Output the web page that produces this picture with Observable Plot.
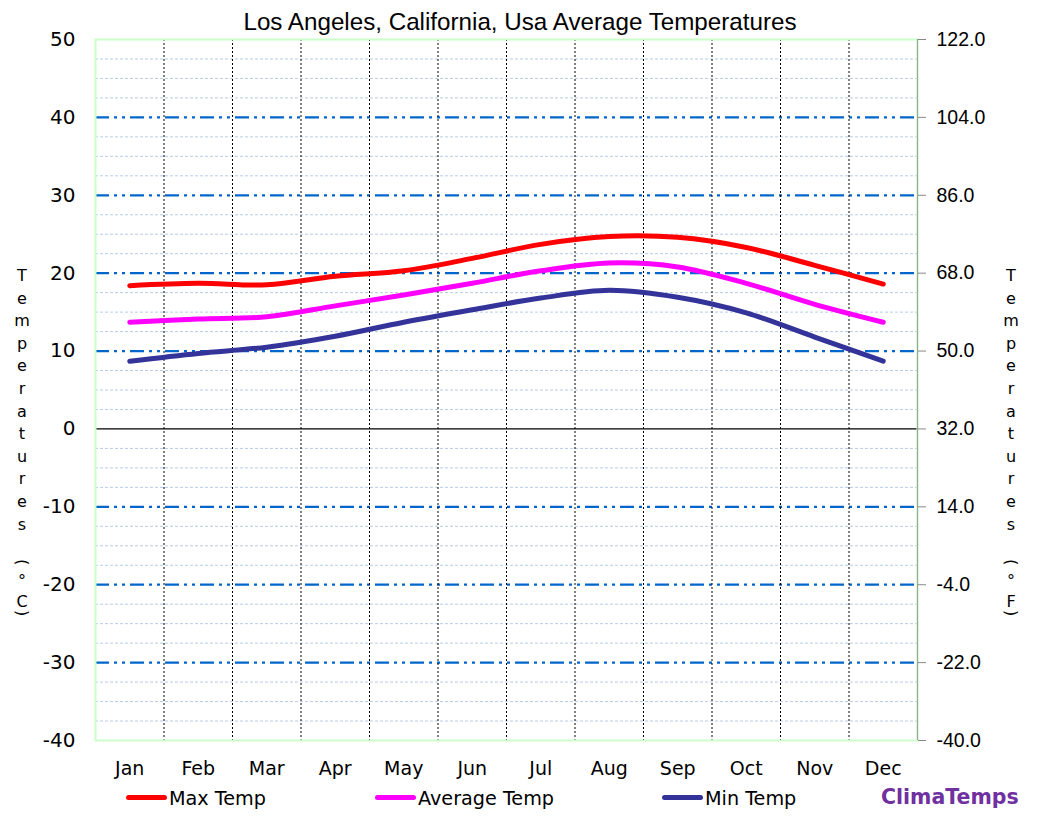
<!DOCTYPE html>
<html>
<head>
<meta charset="utf-8">
<script src="https://cdn.jsdelivr.net/npm/d3@7"></script>
<script src="https://cdn.jsdelivr.net/npm/@observablehq/plot@0.6"></script>
<style>
  html, body { margin: 0; padding: 0; background: #fff; }
  #wrap { position: relative; width: 1037px; height: 821px; overflow: hidden; }
  #chart { position: absolute; left: 0; top: 0; }
  .title { position: absolute; left: 0; width: 1040px; top: 8px; text-align: center;
           font-family: "Liberation Sans", Arial, sans-serif; font-size: 24.2px; color: #000; }
  .vlab { position: absolute; width: 20px; text-align: center;
          font-family: "DejaVu Sans", Verdana, sans-serif; font-size: 16px; color: #000; }
  .vlab span { position: absolute; left: 0; width: 20px; text-align: center; }
  .vlab span.tight { line-height: 10px; height: 10px; }
  .vlab span.rot { transform: rotate(90deg); }
  .leg { position: absolute; top: 787px; font-family: "DejaVu Sans", Verdana, sans-serif; font-size: 19.2px; color: #000; white-space: nowrap; }
  .leg i { display: inline-block; width: 41px; height: 5px; border-radius: 3px; vertical-align: middle; margin-right: 2px; position: relative; top: -2px; }
  .brand { position: absolute; top: 785px; left: 881px; font-family: "DejaVu Sans", Verdana, sans-serif; font-weight: bold; font-size: 20.5px; color: #7030a0; }
</style>
</head>
<body>
<div id="wrap">
  <div id="chart"></div>
  <div class="title">Los Angeles, California, Usa Average Temperatures</div>
  <div class="vlab" id="labC" style="left:12px;top:0"></div>
  <div class="vlab" id="labF" style="left:1001px;top:0"></div>
  <div class="leg" style="left:126px"><i style="background:#ff0000"></i>Max Temp</div>
  <div class="leg" style="left:375px"><i style="background:#ff00ff"></i>Average Temp</div>
  <div class="leg" style="left:662px"><i style="background:#333399"></i>Min Temp</div>
  <div class="brand">ClimaTemps</div>
</div>
<script>
const months = ["Jan","Feb","Mar","Apr","May","Jun","Jul","Aug","Sep","Oct","Nov","Dec"];
const maxTemp = [18.4, 18.7, 18.5, 19.6, 20.3, 21.9, 23.7, 24.7, 24.6, 23.3, 21.0, 18.6];
const avgTemp = [13.7, 14.1, 14.4, 15.8, 17.2, 18.7, 20.3, 21.3, 20.8, 18.7, 16.0, 13.7];
const minTemp = [8.7, 9.7, 10.5, 11.9, 13.7, 15.3, 16.8, 17.8, 16.9, 14.9, 11.8, 8.7];
const seriesNames = ["Max Temp", "Average Temp", "Min Temp"];
const seriesColors = ["#ff0000", "#ff00ff", "#333399"];
const yTicks = [-40, -30, -20, -10, 0, 10, 20, 30, 40, 50];
const majorGrid = [-30, -20, -10, 10, 20, 30, 40];
const minorGrid = d3.range(-40, 50.01, 2.5).filter(v => v % 10 !== 0);
const monthIdx = months.map((m, i) => i + 1);
const boundaries = months.slice(1).map((m, i) => i + 1.5);

const rows = [];
[maxTemp, avgTemp, minTemp].forEach((arr, s) => {
  arr.forEach((v, i) => rows.push({series: seriesNames[s], m: i + 1, t: v}));
});

const chart = Plot.plot({
  width: 1037,
  height: 821,
  marginLeft: 95,
  marginRight: 120,
  marginTop: 39,
  marginBottom: 81,
  x: {type: "linear", domain: [0.5, 12.5]},
  y: {domain: [-40, 50]},
  color: {domain: seriesNames, range: seriesColors},
  style: {background: "#fff"},
  marks: [
    Plot.ruleY(minorGrid, {stroke: "#b8cce4", strokeWidth: 1, strokeDasharray: "3,2"}),
    Plot.ruleY(majorGrid, {stroke: "#0066cc", strokeWidth: 2.2, strokeDasharray: "14,5,3,5,3,5"}),
    Plot.ruleX(boundaries, {stroke: "#000", strokeWidth: 1, strokeDasharray: "2,2"}),
    Plot.ruleY([0], {stroke: "#000", strokeWidth: 1.2}),
    Plot.frame({stroke: "#ccffcc", strokeWidth: 2}),
    Plot.ruleX([12.5], {stroke: "#9aa89a", strokeWidth: 1.2}),
    Plot.axisY({ticks: yTicks, tickSize: 0, tickPadding: 20, label: null,
                tickFormat: d => String(d),
                fontSize: 20, fontFamily: "DejaVu Sans, Verdana, sans-serif"}),
    Plot.axisY({anchor: "right", ticks: yTicks, tickSize: 8, tickPadding: 11, label: null,
                stroke: "#888", fill: "#000",
                tickFormat: d => (d * 9 / 5 + 32).toFixed(1),
                fontSize: 19.5, fontFamily: "Liberation Sans, Arial, sans-serif"}),
    Plot.axisX({ticks: monthIdx, tickSize: 0, tickPadding: 21, label: null,
                tickFormat: d => months[d - 1],
                fontSize: 19, fontFamily: "DejaVu Sans, Verdana, sans-serif"}),
    Plot.line(rows, {x: "m", y: "t", z: "series", stroke: "series", strokeWidth: 5,
                     curve: "catmull-rom", strokeLinecap: "round", strokeLinejoin: "round"})
  ]
});
document.getElementById("chart").appendChild(chart);

function stack(id, chars, tops) {
  const el = document.getElementById(id);
  chars.forEach((c, i) => {
    const s = document.createElement("span");
    s.textContent = c;
    s.style.top = tops[i] + "px";
    if (i >= 12) s.className = "tight" + ((c === "(" || c === ")") ? " rot" : "");
    el.appendChild(s);
  });
}
const labC = ["T","e","m","p","e","r","a","t","u","r","e","s","(","°","C",")"];
const labF = ["T","e","m","p","e","r","a","t","u","r","e","s","(","°","F",")"];
const tops = [266, 288.6, 311.2, 333.8, 356.4, 379, 401.6, 424.2, 446.8, 469.4, 492, 514.6, 557, 576, 597, 608];
stack("labC", labC, tops);
stack("labF", labF, tops);
</script>
</body>
</html>
